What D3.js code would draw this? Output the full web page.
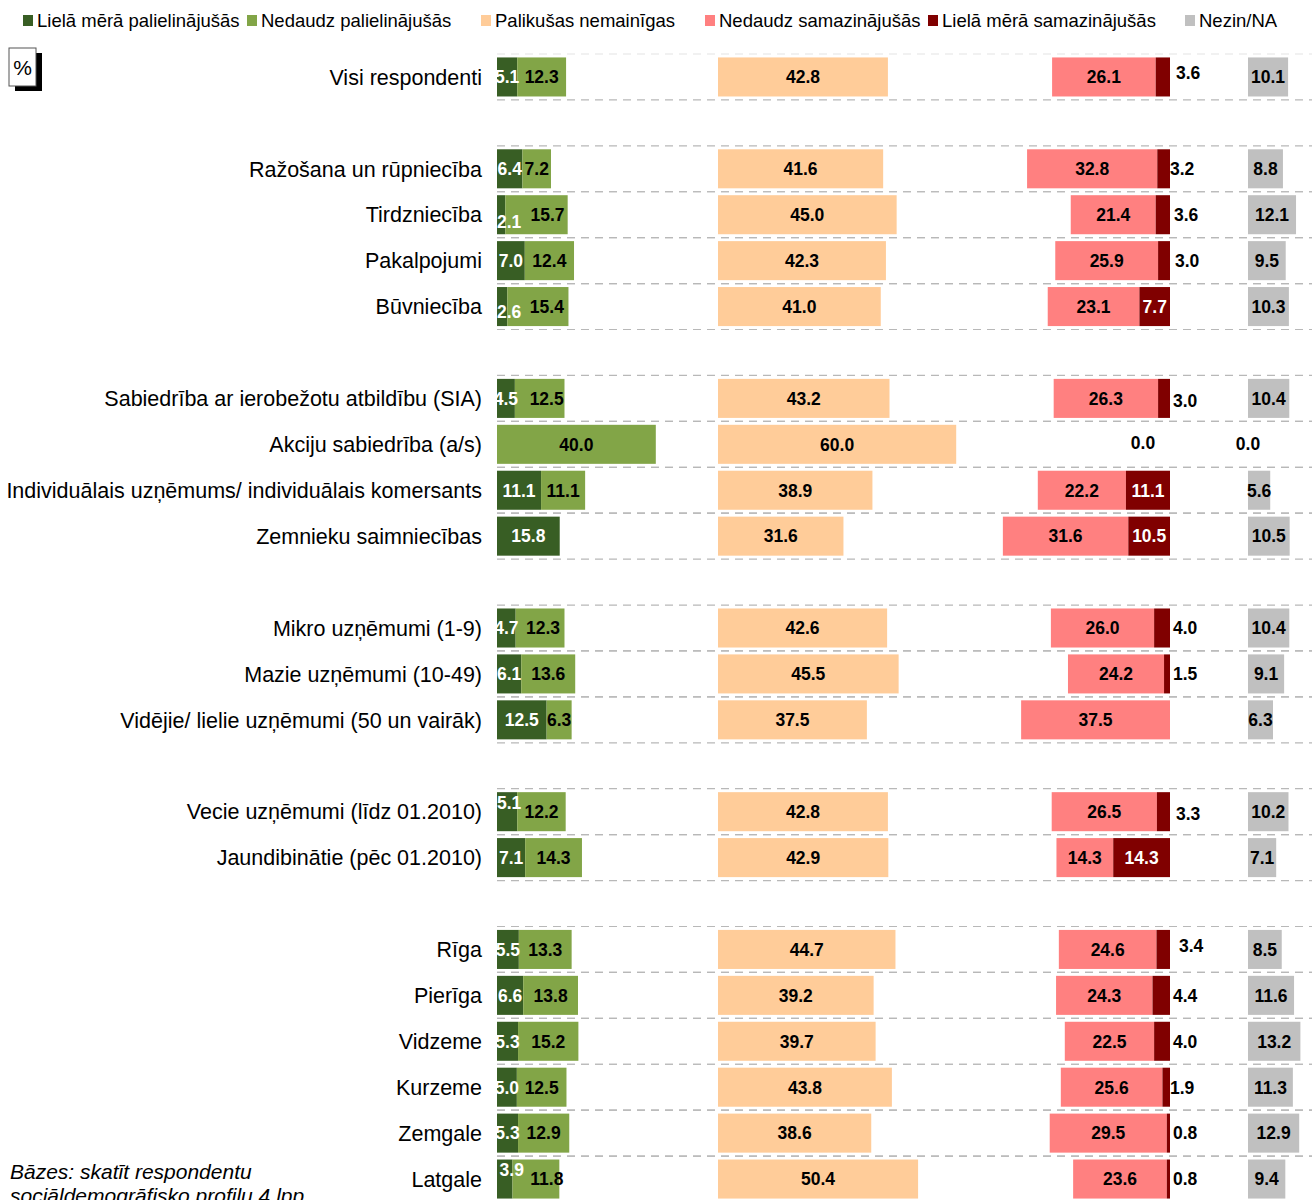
<!DOCTYPE html>
<html>
<head>
<meta charset="utf-8">
<script src="https://cdn.jsdelivr.net/npm/d3@7"></script>
<style>
  body { margin: 0; background: #fff; }
  svg { display: block; font-family: "Liberation Sans", Arial, sans-serif; }
  .cat { font-size: 21.5px; fill: #000; }
  .val { font-size: 17.5px; font-weight: bold; }
  .leg { font-size: 18.5px; fill: #000; }
  .note { font-size: 21px; font-style: italic; fill: #000; }
</style>
</head>
<body>
<svg width="1312" height="1200"></svg>
<script>
// categories, top to bottom; a blank slot goes before each index in groupStarts
var categories = [
  "Visi respondenti",
  "Ražošana un rūpniecība", "Tirdzniecība", "Pakalpojumi", "Būvniecība",
  "Sabiedrība ar ierobežotu atbildību (SIA)", "Akciju sabiedrība (a/s)",
  "Individuālais uzņēmums/ individuālais komersants", "Zemnieku saimniecības",
  "Mikro uzņēmumi (1-9)", "Mazie uzņēmumi (10-49)", "Vidējie/ lielie uzņēmumi (50 un vairāk)",
  "Vecie uzņēmumi (līdz 01.2010)", "Jaundibinātie (pēc 01.2010)",
  "Rīga", "Pierīga", "Vidzeme", "Kurzeme", "Zemgale", "Latgale"
];
var groupStarts = [1, 5, 9, 12, 14];

var seriesNames = ["Lielā mērā palielinājušās", "Nedaudz palielinājušās", "Palikušas nemainīgas",
                   "Nedaudz samazinājušās", "Lielā mērā samazinājušās", "Nezin/NA"];

// null = no bar and no label
var bigUp    = [5.1, 6.4, 2.1, 7.0, 2.6, 4.5, null, 11.1, 15.8, 4.7, 6.1, 12.5, 5.1, 7.1, 5.5, 6.6, 5.3, 5.0, 5.3, 3.9];
var smallUp  = [12.3, 7.2, 15.7, 12.4, 15.4, 12.5, 40.0, 11.1, null, 12.3, 13.6, 6.3, 12.2, 14.3, 13.3, 13.8, 15.2, 12.5, 12.9, 11.8];
var same     = [42.8, 41.6, 45.0, 42.3, 41.0, 43.2, 60.0, 38.9, 31.6, 42.6, 45.5, 37.5, 42.8, 42.9, 44.7, 39.2, 39.7, 43.8, 38.6, 50.4];
var smallDn  = [26.1, 32.8, 21.4, 25.9, 23.1, 26.3, 0.0, 22.2, 31.6, 26.0, 24.2, 37.5, 26.5, 14.3, 24.6, 24.3, 22.5, 25.6, 29.5, 23.6];
var bigDn    = [3.6, 3.2, 3.6, 3.0, 7.7, 3.0, null, 11.1, 10.5, 4.0, 1.5, null, 3.3, 14.3, 3.4, 4.4, 4.0, 1.9, 0.8, 0.8];
var dontKnow = [10.1, 8.8, 12.1, 9.5, 10.3, 10.4, 0.0, 5.6, 10.5, 10.4, 9.1, 6.3, 10.2, 7.1, 8.5, 11.6, 13.2, 11.3, 12.9, 9.4];

var colors = ["#385e24", "#82a547", "#ffcc99", "#ff8080", "#800000", "#c0c0c0"];

// label nudges copied from the original layout: "row|series" -> [dx, dy]
var nudges = {
  "2|0": [8, 7], "4|0": [7, 5], "12|0": [2, -9], "19|0": [7, -9],
  "2|1": [11, 0], "4|1": [9, 0], "5|1": [7, 0], "9|1": [3, 0], "19|1": [11, 0],
  "0|4": [3, -4], "1|4": [-3, 0], "2|4": [1, 0], "3|4": [2, 0], "5|4": [0, 2],
  "12|4": [3, 2], "14|4": [6, -4], "17|4": [-3, 0],
  "6|3": [-27, -2], "6|5": [0, -1]
};

var svg = d3.select("svg");
var fmt = d3.format(".1f");

// slots with gaps between the groups
var slots = [];
categories.forEach(function (c, i) {
  if (groupStarts.indexOf(i) >= 0) slots.push("gap" + i);
  slots.push(c);
});

var y = d3.scaleBand()
  .domain(slots)
  .range([54, 54 + slots.length * 45.92])
  .paddingInner(0.15)
  .paddingOuter(0.075);

var x = d3.scaleLinear().domain([0, 100]).range([0, 397]);

var greenX = 497, sameX = 718, redEnd = 1170, greyX = 1248;

// dashed row separators
var half = y.step() * 0.075;
categories.forEach(function (c, i) {
  [y(c) - half, y(c) + y.bandwidth() + half].forEach(function (ly, k) {
    svg.append("line")
      .attr("x1", greenX).attr("x2", 1312)
      .attr("y1", ly).attr("y2", ly)
      .attr("stroke", (i === 0 && k === 0) ? "#e4e4e4" : "#b8b8b8")
      .attr("stroke-width", 1.2)
      .attr("stroke-dasharray", "8,6");
  });
});

// segment geometry for each row
var rows = categories.map(function (c, i) {
  var segs = [];
  var g0 = bigUp[i] || 0, g1 = smallUp[i] || 0;
  segs.push({ s: 0, v: bigUp[i], x0: greenX, x1: greenX + x(g0) });
  segs.push({ s: 1, v: smallUp[i], x0: greenX + x(g0), x1: greenX + x(g0 + g1) });
  segs.push({ s: 2, v: same[i], x0: sameX, x1: sameX + x(same[i]) });
  var r1 = bigDn[i] || 0;
  segs.push({ s: 3, v: smallDn[i], x0: redEnd - x(r1 + (smallDn[i] || 0)), x1: redEnd - x(r1) });
  segs.push({ s: 4, v: bigDn[i], x0: redEnd - x(r1), x1: redEnd });
  segs.push({ s: 5, v: dontKnow[i], x0: greyX, x1: greyX + x(dontKnow[i] || 0) });
  return { c: c, i: i, segs: segs };
});

svg.append("clipPath").attr("id", "greenClip")
  .append("rect").attr("x", greenX).attr("y", 0).attr("width", sameX - greenX).attr("height", 1200);

var rowG = svg.selectAll("g.row").data(rows).enter().append("g").attr("class", "row");

rowG.selectAll("rect")
  .data(function (d) { return d.segs.filter(function (s) { return s.v; }).map(function (s) { s.c = d.c; return s; }); })
  .enter().append("rect")
  .attr("x", function (s) { return s.x0; })
  .attr("y", function (s) { return y(s.c); })
  .attr("width", function (s) { return s.x1 - s.x0; })
  .attr("height", y.bandwidth())
  .attr("fill", function (s) { return colors[s.s]; });

// value labels
rowG.each(function (d) {
  var g = d3.select(this);
  var cy = y(d.c) + y.bandwidth() / 2;
  d.segs.forEach(function (s) {
    if (s.v === null) return;
    var lx = (s.x0 + s.x1) / 2, anchor = "middle", fill = "#000";
    if (s.s === 0) fill = "#fff";
    if (s.s === 4) {
      if (s.v >= 5) fill = "#fff";
      else { lx = redEnd + 3; anchor = "start"; }
    }
    var n = nudges[d.i + "|" + s.s] || [0, 0];
    var t = g.append("text")
      .attr("class", "val")
      .attr("x", lx + n[0])
      .attr("y", cy + n[1])
      .attr("dy", "0.36em")
      .attr("text-anchor", anchor)
      .attr("fill", fill)
      .text(fmt(s.v));
    if (s.s === 0) t.attr("clip-path", "url(#greenClip)");
  });
});

// category labels
svg.selectAll("text.cat").data(categories).enter().append("text")
  .attr("class", "cat")
  .attr("x", 482)
  .attr("y", function (c) { return y(c) + y.bandwidth() / 2; })
  .attr("dy", "0.36em")
  .attr("text-anchor", "end")
  .text(function (c) { return c; });

// legend
var legX = [37, 261, 495, 719, 942, 1199];
var leg = svg.selectAll("g.leg").data(seriesNames).enter().append("g")
  .attr("transform", function (d, i) { return "translate(" + legX[i] + ",20)"; });
leg.append("rect").attr("x", -14).attr("y", -5).attr("width", 10).attr("height", 11)
  .attr("fill", function (d, i) { return colors[i]; });
leg.append("text").attr("class", "leg").attr("dy", "0.36em").text(function (d) { return d; });

// % box
svg.append("rect").attr("x", 15).attr("y", 53).attr("width", 27).attr("height", 38).attr("fill", "#000");
svg.append("rect").attr("x", 9).attr("y", 48).attr("width", 27).attr("height", 38)
  .attr("fill", "#fff").attr("stroke", "#555").attr("stroke-width", 1);
svg.append("text").attr("x", 22.5).attr("y", 67).attr("dy", "0.36em").attr("text-anchor", "middle")
  .attr("font-size", 21).text("%");

// footnote (second line runs off the bottom, as in the original)
svg.append("text").attr("class", "note").attr("x", 10).attr("y", 1179).text("Bāzes: skatīt respondentu");
svg.append("text").attr("class", "note").attr("x", 10).attr("y", 1203).text("sociāldemogrāfisko profilu 4.lpp.");
</script>
</body>
</html>
